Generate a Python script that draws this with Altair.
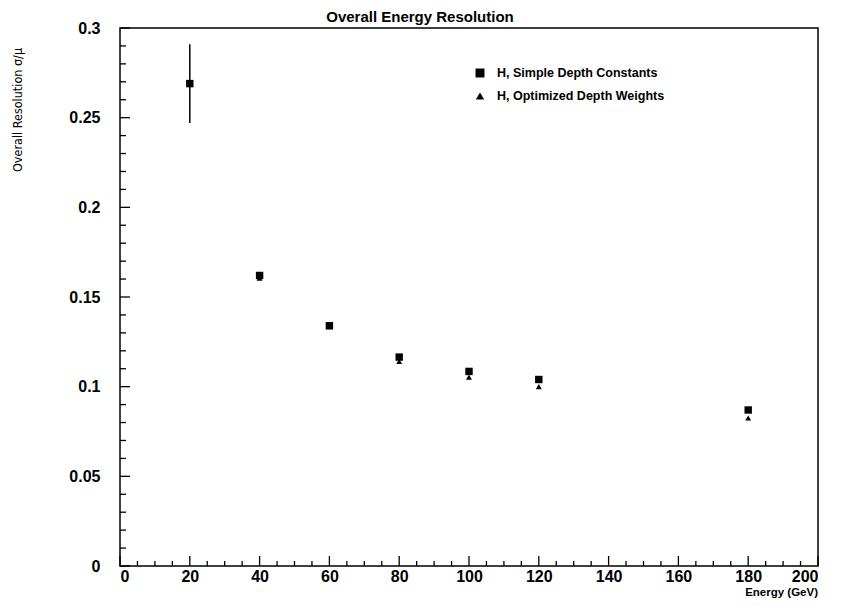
import altair as alt
import pandas as pd

energy = [20, 40, 60, 80, 100, 120, 180]
res_simple = [0.269, 0.162, 0.134, 0.1165, 0.1085, 0.104, 0.087]
err_simple = [0.022, 0.002, 0.001, 0.001, 0.001, 0.001, 0.001]
energy_opt = [40, 60, 80, 100, 120, 180]
res_opt = [0.1605, 0.1335, 0.1140, 0.1053, 0.1000, 0.0825]

W, H = 698, 538
font = "Liberation Sans"

ds = pd.DataFrame({"e": energy, "r": res_simple,
                   "lo": [r - e for r, e in zip(res_simple, err_simple)],
                   "hi": [r + e for r, e in zip(res_simple, err_simple)]})
do = pd.DataFrame({"e": energy_opt, "r": res_opt})

xs = alt.Scale(domain=[0, 200], nice=False)
ys = alt.Scale(domain=[0, 0.3], nice=False)

xaxis = alt.Axis(values=list(range(0, 201, 20)), format="d", ticks=False, grid=False,
                 domain=False, labelFont=font, labelFontWeight="bold", labelFontSize=16,
                 labelColor="black", labelPadding=2, title=None)
yaxis = alt.Axis(values=[0, 0.05, 0.1, 0.15, 0.2, 0.25, 0.3], ticks=False, grid=False,
                 domain=False, labelFont=font, labelFontWeight="bold", labelFontSize=16,
                 labelColor="black", labelPadding=20, title=None,
                 labelExpr="datum.value == 0 ? '0' : format(datum.value, '.2~f')")

base = alt.Chart(ds)

frame = alt.Chart(pd.DataFrame({"a": [0]})).mark_rect(fill=None, stroke="black", strokeWidth=1.5).encode(
    x=alt.value(0), x2=alt.value(W), y=alt.value(0), y2=alt.value(H))

xmaj = pd.DataFrame({"v": list(range(0, 201, 20))})
xmin = pd.DataFrame({"v": [v for v in range(0, 201, 5) if v % 20]})
xticks = alt.Chart(xmaj).mark_rule(color="black", strokeWidth=1.3).encode(
    x=alt.X("v:Q", scale=xs, axis=xaxis), y=alt.value(H), y2=alt.value(H - 10))
xticks2 = alt.Chart(xmin).mark_rule(color="black", strokeWidth=1.3).encode(
    x=alt.X("v:Q", scale=xs), y=alt.value(H), y2=alt.value(H - 5))
ymaj = pd.DataFrame({"v": [i / 100 for i in range(0, 31, 5)]})
ymin = pd.DataFrame({"v": [i / 100 for i in range(0, 31) if i % 5]})
ytm = alt.Chart(ymaj).mark_rule(color="black", strokeWidth=1.3).encode(
    y=alt.Y("v:Q", scale=ys, axis=yaxis), x=alt.value(0), x2=alt.value(10))
ytn = alt.Chart(ymin).mark_rule(color="black", strokeWidth=1.3).encode(
    y=alt.Y("v:Q", scale=ys), x=alt.value(0), x2=alt.value(6))

err = base.mark_rule(color="black", strokeWidth=1.5).encode(
    x=alt.X("e:Q", scale=xs), y=alt.Y("lo:Q", scale=ys), y2="hi:Q")
sq = base.mark_point(shape="square", filled=True, color="black", opacity=1, size=55).encode(
    x=alt.X("e:Q", scale=xs), y=alt.Y("r:Q", scale=ys))
tri = alt.Chart(do).mark_point(shape="triangle-up", filled=True, color="black", opacity=1, size=35).encode(
    x=alt.X("e:Q", scale=xs), y=alt.Y("r:Q", scale=ys))

one = pd.DataFrame({"a": [0]})
leg_sq = alt.Chart(one).mark_point(shape="square", filled=True, color="black", opacity=1, size=80).encode(
    x=alt.value(360), y=alt.value(45))
leg_tri = alt.Chart(one).mark_point(shape="triangle-up", filled=True, color="black", opacity=1, size=70).encode(
    x=alt.value(360), y=alt.value(68))
leg_t1 = alt.Chart(one).mark_text(text="H, Simple Depth Constants", align="left", baseline="middle",
                                  font=font, fontWeight="bold", fontSize=12.5, color="black").encode(
    x=alt.value(377), y=alt.value(45))
leg_t2 = alt.Chart(one).mark_text(text="H, Optimized Depth Weights", align="left", baseline="middle",
                                  font=font, fontWeight="bold", fontSize=12.5, color="black").encode(
    x=alt.value(377), y=alt.value(68))
title = alt.Chart(one).mark_text(text="Overall Energy Resolution", align="center", baseline="bottom",
                                 font=font, fontWeight="bold", fontSize=15, color="black").encode(
    x=alt.value(300), y=alt.value(-3))
xtitle = alt.Chart(one).mark_text(text="Energy (GeV)", align="right", baseline="top",
                                  font=font, fontWeight="bold", fontSize=11.5, color="black").encode(
    x=alt.value(W), y=alt.value(H + 21))
ytitle = alt.Chart(one).mark_text(text="Overall Resolution σ/μ", align="center", baseline="middle",
                                  font="DejaVu Sans Condensed", fontSize=12.5, angle=270, color="black").encode(
    x=alt.value(-102), y=alt.value(82))

chart = alt.layer(frame, xticks, xticks2, ytm, ytn, err, sq, tri, leg_sq, leg_tri, leg_t1, leg_t2,
                  title, xtitle, ytitle).properties(
    width=W, height=H, background="white",
    padding={"left": 112, "top": 20, "right": 30, "bottom": 38},
    autosize=alt.AutoSizeParams(type="none")
).configure_view(stroke=None)

chart.save("out.html", embed_options={"renderer": "svg", "actions": False})
